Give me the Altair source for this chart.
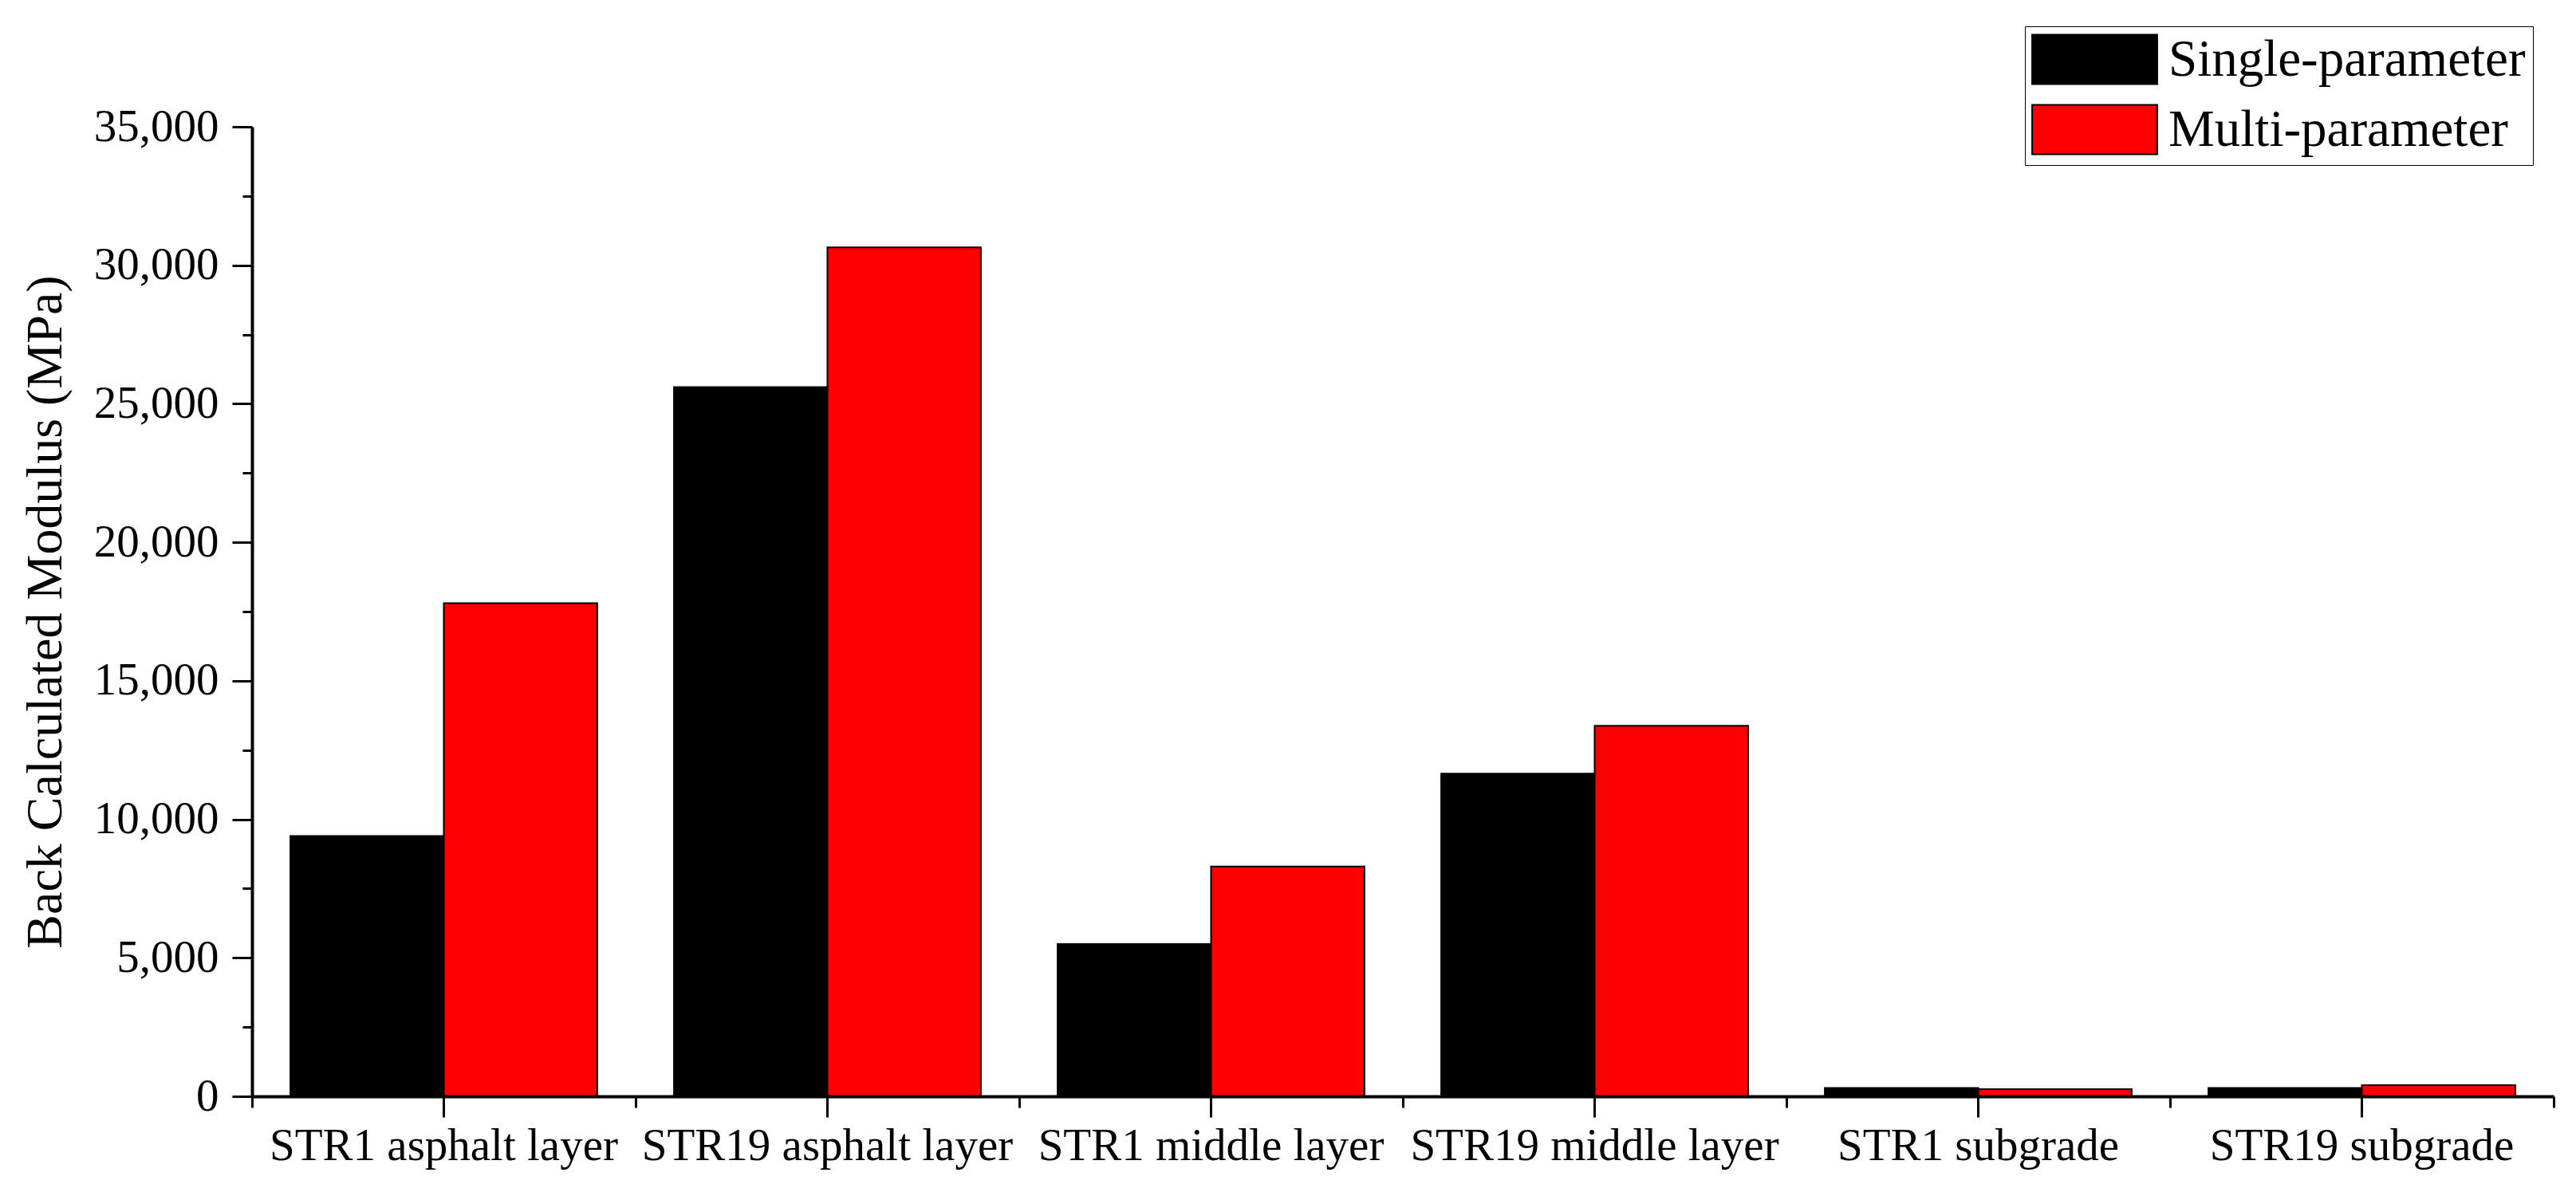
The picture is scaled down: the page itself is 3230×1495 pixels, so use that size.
import altair as alt
import pandas as pd

categories = [
    "STR1 asphalt layer",
    "STR19 asphalt layer",
    "STR1 middle layer",
    "STR19 middle layer",
    "STR1 subgrade",
    "STR19 subgrade",
]
series_names = ["Single-parameter", "Multi-parameter"]
single_values = [9400, 25600, 5500, 11650, 300, 300]
multi_values = [17800, 30650, 8300, 13380, 260, 400]
y_major_ticks = [0, 5000, 10000, 15000, 20000, 25000, 30000, 35000]
y_minor_ticks = [2500, 7500, 12500, 17500, 22500, 27500, 32500]
series_colors = ["#000000", "#ff0000"]

rows = []
for c, s, m in zip(categories, single_values, multi_values):
    rows.append({"category": c, "series": series_names[0], "value": s})
    rows.append({"category": c, "series": series_names[1], "value": m})
df = pd.DataFrame(rows)

FONT = "Liberation Serif"

x_scale = alt.Scale(domain=categories, paddingInner=0, paddingOuter=0)
y_scale = alt.Scale(domain=[0, 35000], nice=False, zero=True)
xoff_scale = alt.Scale(domain=series_names, paddingInner=0, paddingOuter=0.25)

bars = alt.Chart(df).mark_bar(stroke="black", strokeWidth=2).encode(
    x=alt.X(
        "category:N",
        scale=x_scale,
        sort=categories,
        axis=alt.Axis(
            orient="bottom", title=None, labelAngle=0, labelFontSize=57, labelFont=FONT,
            labelColor="black", labelPadding=8, labelLimit=1000, labelOverlap=False,
            tickSize=26, tickWidth=3, tickColor="black", domainWidth=4, domainColor="black",
            bandPosition=0.5, zindex=1, grid=False,
        ),
    ),
    xOffset=alt.XOffset("series:N", scale=xoff_scale, sort=series_names),
    y=alt.Y(
        "value:Q",
        scale=y_scale,
        axis=alt.Axis(
            orient="left", values=y_major_ticks, format=",d", grid=False,
            title="Back Calculated Modulus (MPa)", titleFontSize=64, titleFont=FONT,
            titleFontWeight="normal", titleColor="black", titlePadding=28,
            labelFontSize=57, labelFont=FONT, labelColor="black", labelPadding=17,
            tickSize=25, tickWidth=3, tickColor="black", domainWidth=4, domainColor="black",
            zindex=1,
        ),
    ),
    color=alt.Color(
        "series:N",
        scale=alt.Scale(domain=series_names, range=series_colors),
        legend=alt.Legend(
            title=None, orient="none", legendX=2223, legendY=-126,
            symbolType="M-2.53,-1H2.53V1H-2.53Z", symbolSize=3844,
            symbolStrokeColor="black", symbolStrokeWidth=2, symbolOpacity=1,
            symbolOffset=46, labelOffset=60, labelFontSize=65, labelFont=FONT,
            labelColor="black", labelLimit=1000, padding=9, rowPadding=17,
            strokeColor="black",
        ),
    ),
)

minor = alt.Chart(df).mark_bar(opacity=0, strokeOpacity=0).encode(
    x=alt.X(
        "category:N",
        scale=x_scale,
        sort=categories,
        axis=alt.Axis(
            orient="bottom", title=None, labels=False, domain=False, tickBand="extent",
            tickSize=14, tickWidth=3, tickColor="black", zindex=1, grid=False,
        ),
    ),
    xOffset=alt.XOffset("series:N", scale=xoff_scale, sort=series_names),
    y=alt.Y(
        "value:Q",
        scale=y_scale,
        axis=alt.Axis(
            orient="left", title=None, labels=False, domain=False, values=y_minor_ticks,
            tickSize=12, tickWidth=3, tickColor="black", zindex=1, grid=False,
        ),
    ),
)

chart = (
    alt.layer(bars, minor)
    .resolve_axis(x="independent", y="independent")
    .properties(
        width=2886, height=1216,
        padding={"left": 17, "top": 24, "right": 5, "bottom": 5},
        view=alt.ViewBackground(stroke="transparent", strokeWidth=0),
    )
    .configure_view(stroke="transparent", strokeWidth=0)
    .configure_axis(grid=False)
    .configure_legend(strokeWidth=3)
    .configure(font=FONT, background="white")
)

chart.save("out.html", embed_options={"renderer": "svg", "actions": False})
